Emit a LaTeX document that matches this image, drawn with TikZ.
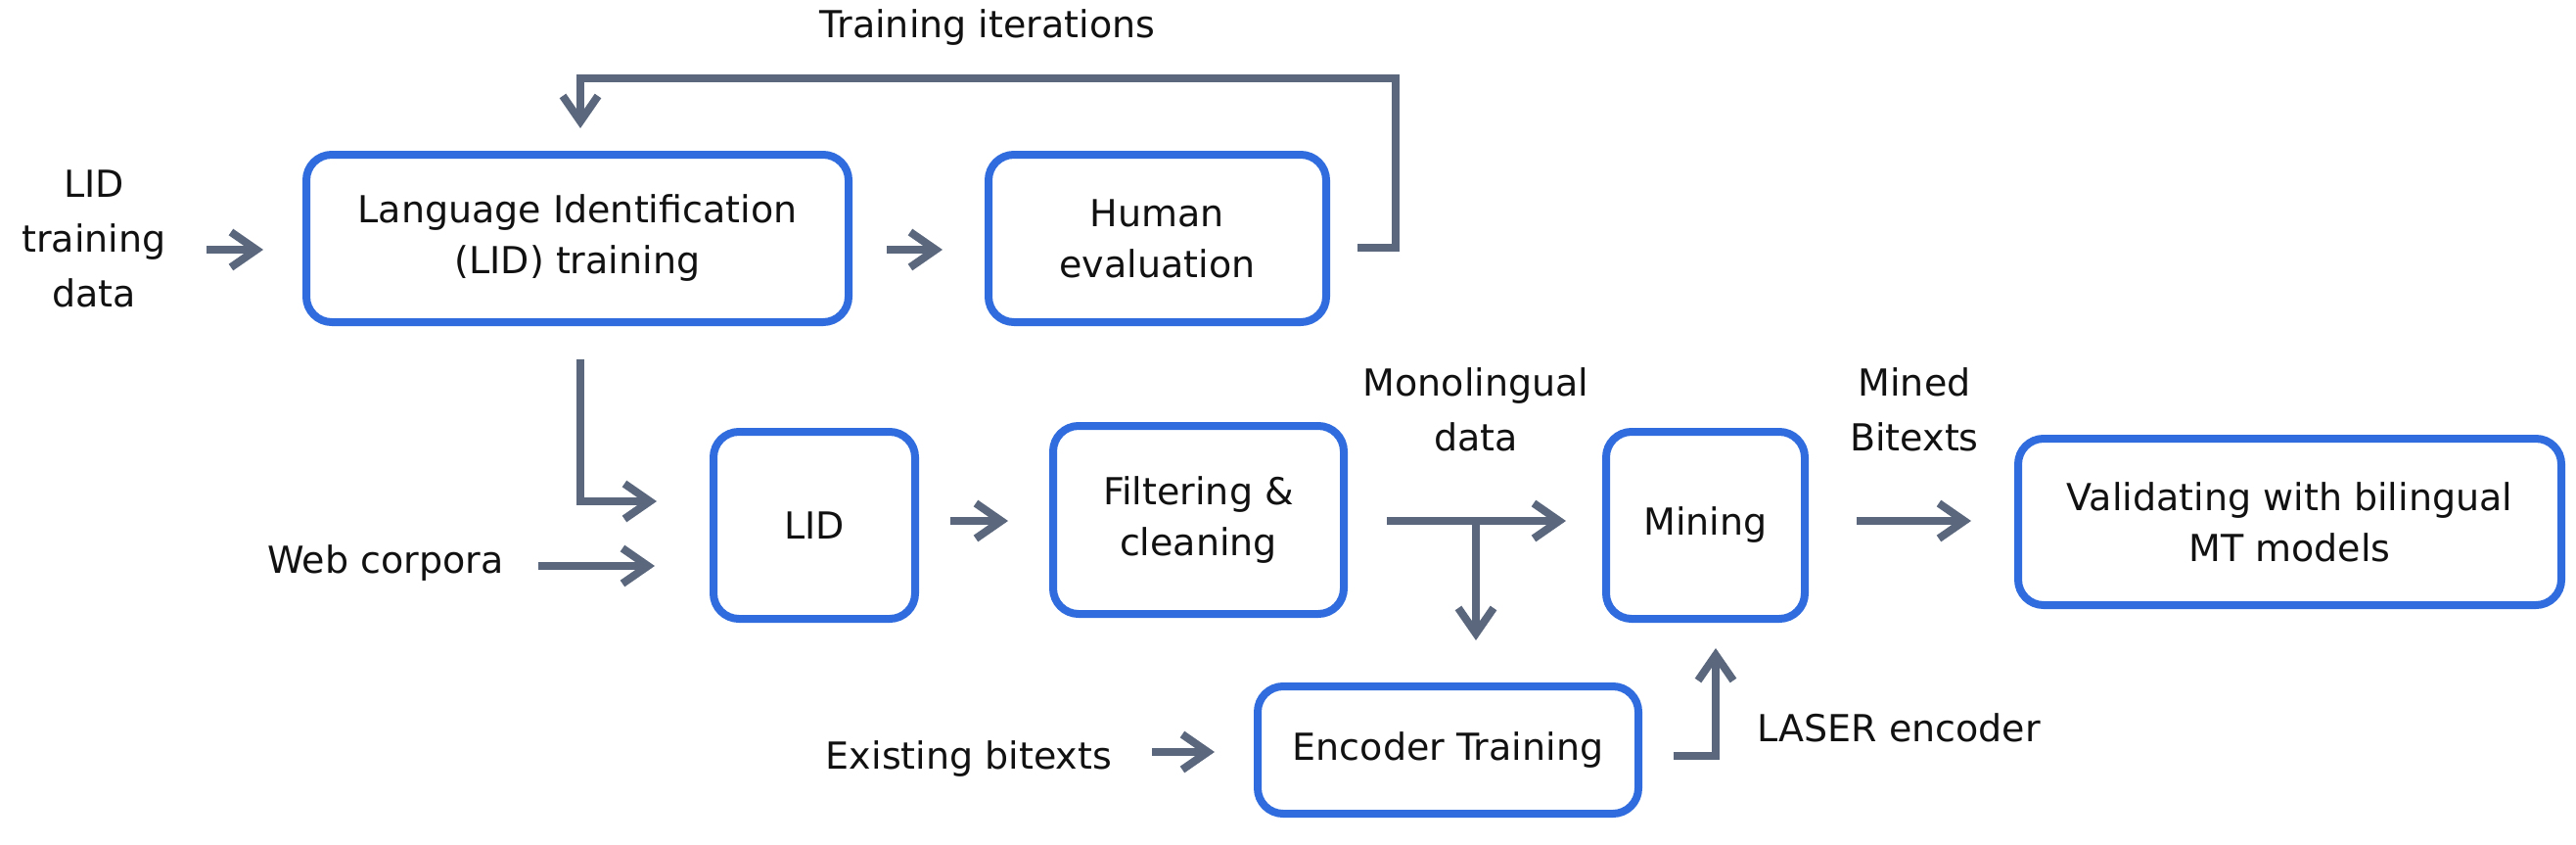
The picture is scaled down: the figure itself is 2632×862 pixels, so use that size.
\documentclass[tikz,border=0pt]{standalone}
\usepackage{fontspec}
\setmainfont{DejaVu Sans}
\usetikzlibrary{arrows.meta}
\definecolor{boxblue}{RGB}{48,108,222}
\definecolor{arrgray}{RGB}{91,103,125}
\definecolor{txt}{RGB}{17,17,17}
\begin{document}
\begin{tikzpicture}[x=0.5pt,y=-0.5pt,
  box/.style={draw=boxblue, line width=4pt, rounded corners=13pt, align=center, inner sep=0pt, text=txt, font=\fontsize{19pt}{26pt}\selectfont},
  lbl/.style={align=center, inner sep=0pt, text=txt, font=\fontsize{19pt}{28pt}\selectfont},
  arr/.style={draw=arrgray, line width=4pt, -{Straight Barb[length=13pt,width=18pt]}},
  ]
\useasboundingbox (0,0) rectangle (2632,862);
% boxes
\node[box, minimum width=277pt, minimum height=85.5pt] (lidt) at (590,243.5) {Language Identification\\(LID) training};
\node[box, minimum width=172.5pt, minimum height=85.5pt] (he) at (1182.5,243.5) {Human\\evaluation};
\node[box, minimum width=103pt, minimum height=95.5pt] (lid) at (832,536.5) {LID};
\node[box, minimum width=148.5pt, minimum height=96pt] (filt) at (1224.5,531) {Filtering \&\\cleaning};
\node[box, minimum width=101.5pt, minimum height=95.5pt] (mine) at (1742.5,536.5) {Mining};
\node[box, minimum width=277.5pt, minimum height=85pt] (val) at (2339.5,533) {Validating with bilingual\\MT models};
\node[box, minimum width=194.5pt, minimum height=65pt] (enc) at (1479.5,766) {Encoder Training};
% labels
\node[lbl, anchor=base] (tit) at (1009,39) {Training iterations};
\node[lbl] (lidd) at (96,244) {LID\\training\\data};
\node[lbl] (mono) at (1508,418) {Monolingual\\data};
\node[lbl] (mined) at (1956,418) {Mined\\Bitexts};
\node[lbl, anchor=base] (web) at (394,585) {Web corpora};
\node[lbl, anchor=base] (ex) at (990,785) {Existing bitexts};
\node[lbl, anchor=base west] (laser) at (1795,757) {LASER encoder};
% connectors
\coordinate (a1e) at ([shift={(-40,11.5)}]lidt.west);
\coordinate (a1s) at ([xshift=20.5pt]lidd.east);
\draw[arr] (a1s |- a1e) -- (a1e);
\draw[arr] ([shift={(35,11.5)}]lidt.east) -- ([shift={(-43,11.5)}]he.west);
\draw[arr] ([shift={(28,9.5)}]he.east) -- ++(39,0) |- ([shift={(3,-74)}]lidt.north) -- ([shift={(3,-23)}]lidt.north);
\draw[arr] ([shift={(3,34)}]lidt.south) |- ([shift={(-54,-24.5)}]lid.west);
\coordinate (a5e) at ([shift={(-56,41.5)}]lid.west);
\coordinate (a5s) at ([xshift=17.5pt]web.east);
\draw[arr] (a5s |- a5e) -- (a5e);
\coordinate (a6e) at ([shift={(-42,1)}]filt.west);
\coordinate (a6s) at ([xshift=16pt]lid.east);
\draw[arr] (a6s |- a6e) -- (a6e);
\coordinate (a7s) at ([shift={(40,1)}]filt.east);
\coordinate (a7e) at ([xshift=-18.5pt]mine.west);
\draw[arr] (a7s) -- (a7s -| a7e);
\coordinate (a8e) at ([yshift=21.5pt]enc.north);
\draw[arr] (mono |- a7s) -- (mono |- a8e);
\coordinate (a9e) at ([shift={(-44,-1)}]val.west);
\coordinate (a9s) at ([xshift=24.5pt]mine.east);
\draw[arr] (a9s |- a9e) -- (a9e);
\coordinate (a10e) at ([shift={(-40,2)}]enc.west);
\coordinate (a10s) at ([xshift=20.5pt]ex.east);
\draw[arr] (a10s |- a10e) -- (a10e);
\draw[arr] ([shift={(32,6)}]enc.east) -| ([shift={(10.5,26)}]mine.south);
\end{tikzpicture}
\end{document}
